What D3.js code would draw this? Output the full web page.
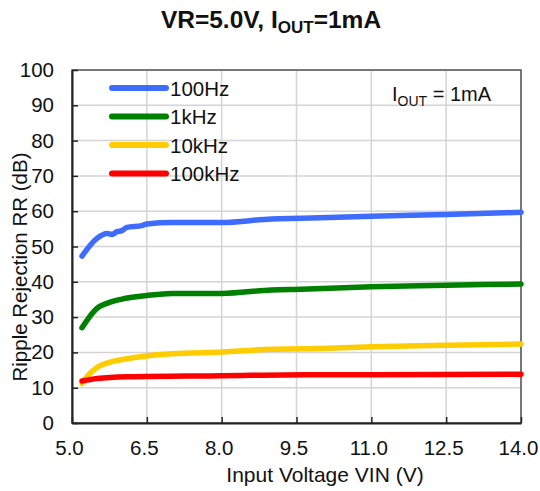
<!DOCTYPE html>
<html><head><meta charset="utf-8">
<script src="https://cdn.jsdelivr.net/npm/d3@7"></script>
<style>body{margin:0;background:#fff}svg{display:block;font-family:"Liberation Sans",Arial,sans-serif}</style>
</head><body><svg id="c" width="540" height="491"></svg>
<script>
const seriesNames = ["100Hz", "1kHz", "10kHz", "100kHz"];
const seriesColors = ["#3d6cff", "#008000", "#ffcc00", "#ff0000"];
const xTicks = [5.0, 6.5, 8.0, 9.5, 11.0, 12.5, 14.0];
const yTicks = [0, 10, 20, 30, 40, 50, 60, 70, 80, 90, 100];

const vin100Hz = [5.2, 5.5, 5.7, 5.8, 5.9, 6.0, 6.1, 6.4, 6.5, 7.0, 8.0, 9.0, 9.6, 11.0, 12.5, 14.0];
const rr100Hz  = [47.3, 52.3, 53.7, 53.4, 54.2, 54.5, 55.4, 55.9, 56.4, 56.8, 56.8, 57.8, 58.0, 58.6, 59.1, 59.7];
const vin1kHz = [5.2, 5.5, 5.7, 6.0, 6.5, 7.0, 8.0, 9.0, 9.6, 11.0, 12.5, 14.0];
const rr1kHz  = [27.0, 32.5, 33.9, 35.1, 36.1, 36.7, 36.7, 37.7, 37.9, 38.6, 39.0, 39.4];
const vin10kHz = [5.2, 5.3, 5.5, 5.75, 6.1, 6.5, 7.0, 8.0, 9.0, 9.6, 11.0, 12.5, 14.0];
const rr10kHz  = [11.2, 13.1, 15.7, 17.2, 18.2, 19.0, 19.6, 20.1, 20.9, 21.0, 21.6, 22.0, 22.4];
const vin100kHz = [5.2, 5.5, 6.1, 8.0, 9.7, 11.0, 14.0];
const rr100kHz  = [11.9, 12.6, 13.1, 13.4, 13.7, 13.7, 13.8];

const series = [
  {name: seriesNames[0], color: seriesColors[0], x: vin100Hz, y: rr100Hz},
  {name: seriesNames[1], color: seriesColors[1], x: vin1kHz, y: rr1kHz},
  {name: seriesNames[2], color: seriesColors[2], x: vin10kHz, y: rr10kHz},
  {name: seriesNames[3], color: seriesColors[3], x: vin100kHz, y: rr100kHz}
];

const svg = d3.select("#c");
const L = 72, R = 521, T = 70, B = 423;
const x = d3.scaleLinear().domain([5, 14]).range([L, R]);
const y = d3.scaleLinear().domain([0, 100]).range([B, T]);

// gridlines
svg.append("g").selectAll("line").data(yTicks.slice(1)).join("line")
  .attr("x1", L).attr("x2", R).attr("y1", d => y(d)).attr("y2", d => y(d))
  .attr("stroke", "#d4d4d4").attr("stroke-width", 1.5);
svg.append("g").selectAll("line").data(xTicks.slice(1)).join("line")
  .attr("y1", T).attr("y2", B).attr("x1", d => x(d)).attr("x2", d => x(d))
  .attr("stroke", "#d4d4d4").attr("stroke-width", 1.5);

// border
svg.append("rect").attr("x", L).attr("y", T).attr("width", R - L).attr("height", B - T)
  .attr("fill", "none").attr("stroke", "#555").attr("stroke-width", 1.5);

// axes
const xAxis = svg.append("g").attr("transform", `translate(0,${B})`)
  .call(d3.axisBottom(x).tickValues(xTicks).tickFormat(d3.format(".1f")).tickSizeInner(-6).tickSizeOuter(0).tickPadding(17));
const yAxis = svg.append("g").attr("transform", `translate(${L},0)`)
  .call(d3.axisLeft(y).tickValues(yTicks).tickSizeInner(-6).tickSizeOuter(0).tickPadding(18));
[xAxis, yAxis].forEach(a => {
  a.select(".domain").attr("stroke", "#222").attr("stroke-width", 2);
  a.selectAll(".tick line").attr("stroke", "#222").attr("stroke-width", 1.5);
  a.selectAll(".tick text").attr("font-size", 20.5).attr("fill", "#111")
    .attr("font-family", '"Liberation Sans",Arial,sans-serif');
});
xAxis.selectAll(".tick text").attr("dx", -3);

// lines
const line = d3.line().x(d => x(d[0])).y(d => y(d[1])).curve(d3.curveMonotoneX);
series.forEach(s => {
  svg.append("path").datum(s.x.map((v, i) => [v, s.y[i]]))
    .attr("d", line).attr("fill", "none").attr("stroke", s.color)
    .attr("stroke-width", 5.5).attr("stroke-linecap", "round").attr("stroke-linejoin", "round");
});

// legend
const lg = svg.append("g");
series.forEach((s, i) => {
  const yy = 88 + i * 28.5;
  lg.append("line").attr("x1", 112).attr("x2", 166).attr("y1", yy).attr("y2", yy)
    .attr("stroke", s.color).attr("stroke-width", 6).attr("stroke-linecap", "round");
  lg.append("text").attr("x", 170).attr("y", yy + 7.5).attr("font-size", 20.5).attr("fill", "#111").text(s.name);
});

// annotation
const ann = svg.append("text").attr("x", 392).attr("y", 101).attr("font-size", 20).attr("fill", "#111");
ann.append("tspan").text("I");
ann.append("tspan").attr("font-size", 14).attr("dy", 5).text("OUT");
ann.append("tspan").attr("dy", -5).text(" = 1mA");

// title
const ti = svg.append("text").attr("x", 271).attr("y", 28).attr("text-anchor", "middle")
  .attr("font-size", 24.5).attr("font-weight", "bold").attr("fill", "#111");
ti.append("tspan").text("VR=5.0V, I");
ti.append("tspan").attr("font-size", 17).attr("dy", 5).text("OUT");
ti.append("tspan").attr("dy", -5).text("=1mA");

// axis titles
svg.append("text").attr("x", 325).attr("y", 482).attr("text-anchor", "middle")
  .attr("font-size", 21).attr("fill", "#111").text("Input Voltage VIN (V)");
svg.append("text").attr("transform", "translate(27,267) rotate(-90)").attr("text-anchor", "middle")
  .attr("font-size", 20.5).attr("fill", "#111").text("Ripple Rejection RR (dB)");
</script></body></html>
